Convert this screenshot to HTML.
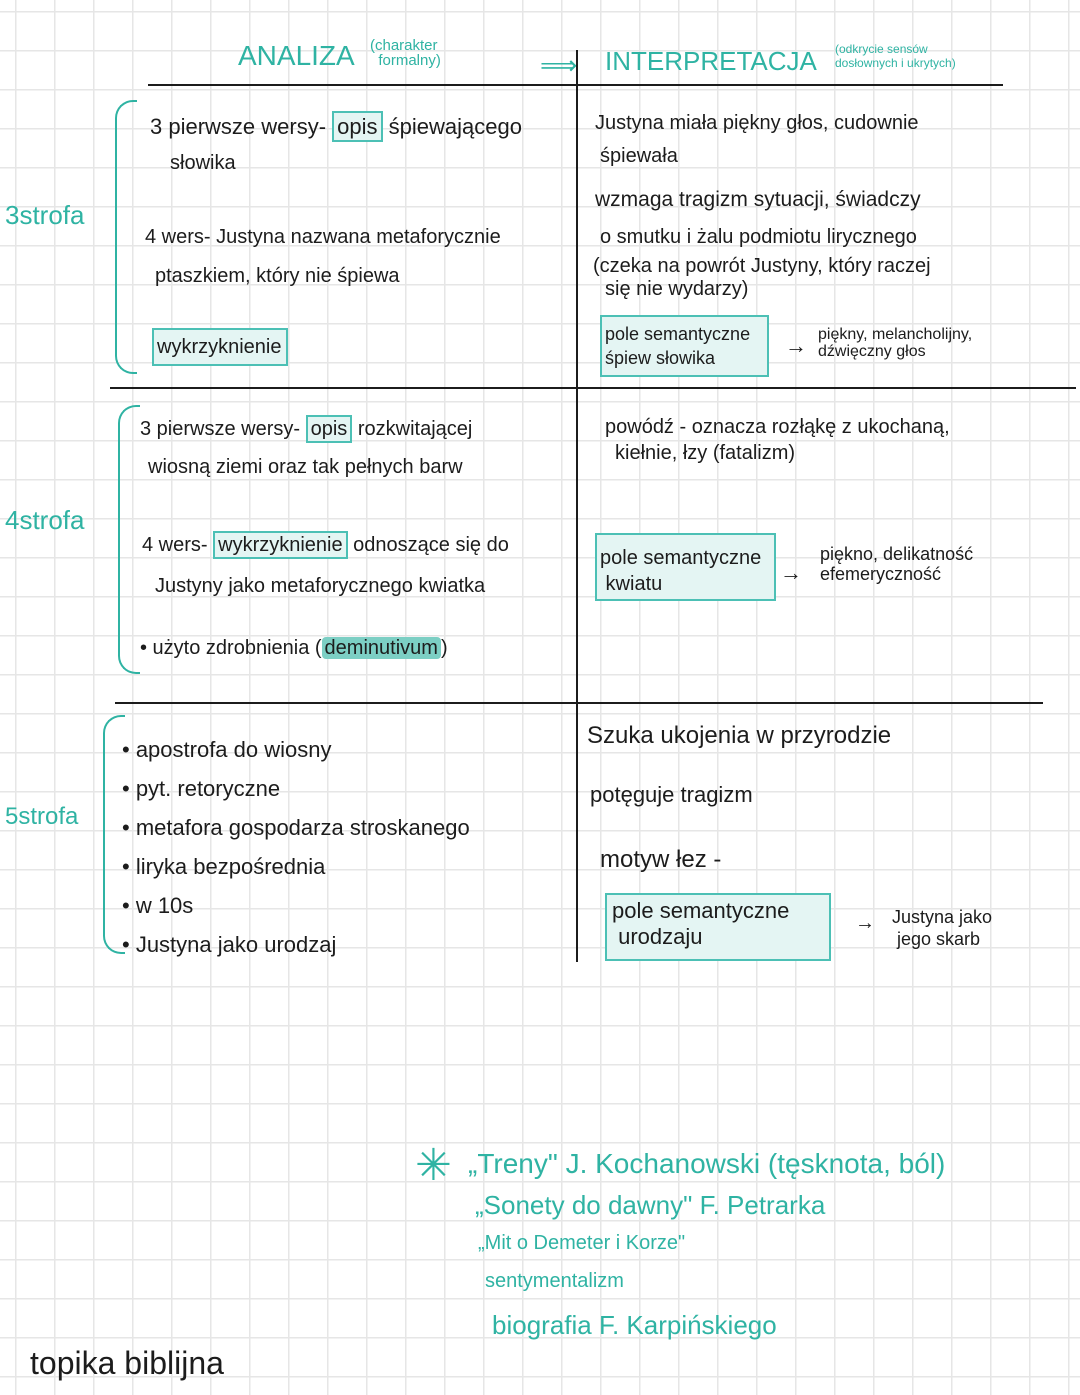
<!DOCTYPE html>
<html><head><meta charset="utf-8"><style>
body{margin:0;width:1080px;height:1395px;position:relative;overflow:hidden;font-family:"Liberation Sans",sans-serif;color:#1c1c1c;
background-color:#fff;background-image:linear-gradient(#e6e6e6 1.5px,transparent 1.5px),linear-gradient(90deg,#e6e6e6 1.5px,transparent 1.5px);background-size:39px 39px;background-position:15px 11px;}
.t{position:absolute;white-space:nowrap;font-size:20px}
.g{color:#2fb3a3}
.l{position:absolute;background:#1c1c1c}
.b{position:absolute;border:2px solid #4cc0b5;background:#e4f5f3}
.ib{border:2px solid #4cc0b5;background:#e4f5f3;padding:1px 3px}
.br{position:absolute;border:2px solid #2fb3a3;border-right:none;border-radius:18px 0 0 18px}
</style></head><body>
<div class="t g" style="left:238px;top:40px;font-size:28px">ANALIZA</div>
<div class="t g" style="left:370px;top:38px;font-size:15px;line-height:15px">(charakter<br>&nbsp;&nbsp;formalny)</div>
<div class="t g" style="left:540px;top:50px;font-size:26px">⟹</div>
<div class="t g" style="left:605px;top:46px;font-size:26px">INTERPRETACJA</div>
<div class="t g" style="left:835px;top:42px;font-size:12px;line-height:14px">(odkrycie sensów<br>dosłownych i ukrytych)</div>
<div class="l" style="left:148px;top:84px;width:855px;height:2px"></div>
<div class="l" style="left:576px;top:50px;width:2px;height:912px"></div>
<div class="l" style="left:110px;top:387px;width:966px;height:2px"></div>
<div class="l" style="left:115px;top:702px;width:928px;height:2px"></div>

<div class="br" style="left:115px;top:100px;width:20px;height:270px"></div>
<div class="t g" style="left:5px;top:200px;font-size:26px">3strofa</div>
<div class="br" style="left:118px;top:405px;width:20px;height:265px"></div>
<div class="t g" style="left:5px;top:505px;font-size:26px">4strofa</div>
<div class="br" style="left:103px;top:715px;width:20px;height:235px"></div>
<div class="t g" style="left:5px;top:803px;font-size:24px">5strofa</div>

<div class="t" style="left:150px;top:114px;font-size:22px">3 pierwsze wersy- <span class="ib">opis</span> śpiewającego</div>
<div class="t" style="left:170px;top:152px">słowika</div>
<div class="t" style="left:145px;top:226px;font-size:20px">4 wers- Justyna nazwana metaforycznie</div>
<div class="t" style="left:155px;top:265px">ptaszkiem, który nie śpiewa</div>
<div class="b" style="left:152px;top:328px;width:132px;height:34px"></div>
<div class="t" style="left:157px;top:336px">wykrzyknienie</div>

<div class="t" style="left:595px;top:112px">Justyna miała piękny głos, cudownie</div>
<div class="t" style="left:600px;top:145px">śpiewała</div>
<div class="t" style="left:595px;top:188px;font-size:21px">wzmaga tragizm sytuacji, świadczy</div>
<div class="t" style="left:600px;top:226px">o smutku i żalu podmiotu lirycznego</div>
<div class="t" style="left:593px;top:255px">(czeka na powrót Justyny, który raczej</div>
<div class="t" style="left:605px;top:278px">się nie wydarzy)</div>
<div class="b" style="left:600px;top:315px;width:165px;height:58px"></div>
<div class="t" style="left:605px;top:322px;font-size:18px;line-height:24px">pole semantyczne<br>śpiew słowika</div>
<div class="t" style="left:785px;top:333px;font-size:22px">→</div>
<div class="t" style="left:818px;top:326px;font-size:16px;line-height:17px">piękny, melancholijny,<br>dźwięczny głos</div>

<div class="t" style="left:140px;top:418px;font-size:20px">3 pierwsze wersy- <span class="ib">opis</span> rozkwitającej</div>
<div class="t" style="left:148px;top:456px">wiosną ziemi oraz tak pełnych barw</div>
<div class="t" style="left:142px;top:534px">4 wers- <span class="ib">wykrzyknienie</span> odnoszące się do</div>
<div class="t" style="left:155px;top:575px">Justyny jako metaforycznego kwiatka</div>
<div class="t" style="left:140px;top:637px">• użyto zdrobnienia (<span style="background:#7ccfc4;border-radius:4px;padding:0 3px">deminutivum</span>)</div>

<div class="t" style="left:605px;top:416px">powódź - oznacza rozłąkę z ukochaną,</div>
<div class="t" style="left:615px;top:442px">kiełnie, łzy (fatalizm)</div>
<div class="b" style="left:595px;top:533px;width:177px;height:64px"></div>
<div class="t" style="left:600px;top:545px;line-height:26px">pole semantyczne<br>&nbsp;kwiatu</div>
<div class="t" style="left:780px;top:560px;font-size:22px">→</div>
<div class="t" style="left:820px;top:544px;font-size:18px;line-height:20px">piękno, delikatność<br>efemeryczność</div>

<div class="t" style="left:122px;top:730px;font-size:22px;line-height:39px">• apostrofa do wiosny<br>• pyt. retoryczne<br>• metafora gospodarza stroskanego<br>• liryka bezpośrednia<br>• w 10s<br>• Justyna jako urodzaj</div>

<div class="t" style="left:587px;top:722px;font-size:24px">Szuka ukojenia w przyrodzie</div>
<div class="t" style="left:590px;top:782px;font-size:22px">potęguje tragizm</div>
<div class="t" style="left:600px;top:846px;font-size:24px">motyw łez -</div>
<div class="b" style="left:605px;top:893px;width:222px;height:64px"></div>
<div class="t" style="left:612px;top:898px;font-size:22px;line-height:26px">pole semantyczne<br>&nbsp;urodzaju</div>
<div class="t" style="left:855px;top:912px;font-size:20px">→</div>
<div class="t" style="left:892px;top:906px;font-size:18px;line-height:22px">Justyna jako<br>&nbsp;jego skarb</div>

<div class="t g" style="left:415px;top:1140px;font-size:44px">✳</div>
<div class="t g" style="left:468px;top:1148px;font-size:28px">„Treny" J. Kochanowski (tęsknota, ból)</div>
<div class="t g" style="left:475px;top:1190px;font-size:26px">„Sonety do dawny" F. Petrarka</div>
<div class="t g" style="left:478px;top:1232px;font-size:20px">„Mit o Demeter i Korze"</div>
<div class="t g" style="left:485px;top:1270px;font-size:20px">sentymentalizm</div>
<div class="t g" style="left:492px;top:1310px;font-size:26px">biografia F. Karpińskiego</div>

<div class="t" style="left:30px;top:1345px;font-size:32px">topika biblijna</div>
</body></html>
